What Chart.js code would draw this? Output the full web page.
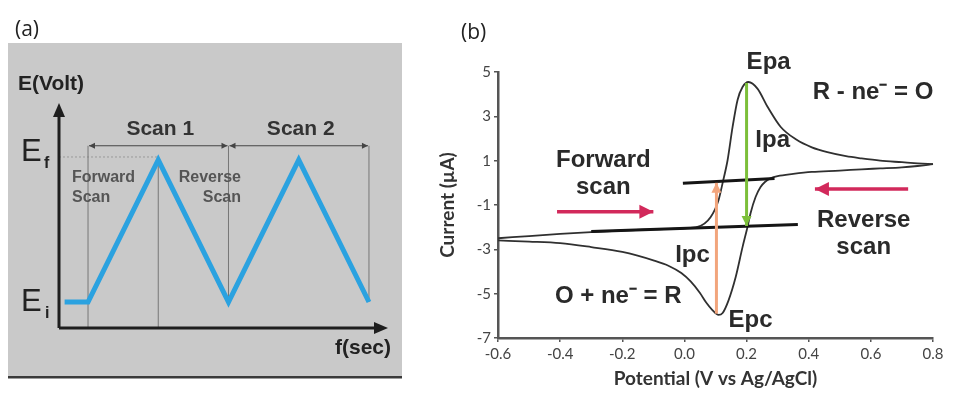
<!DOCTYPE html>
<html>
<head>
<meta charset="utf-8">
<script src="https://cdn.jsdelivr.net/npm/chart.js@4"></script>
<style>
  html, body { margin: 0; padding: 0; background: #fff; }
  #wrap { position: relative; width: 957px; height: 398px; overflow: hidden; }
  canvas { position: absolute; top: 0; }
  #waveCanvas { left: 0; }
  #cvCanvas { left: 430px; }
</style>
</head>
<body>
<div id="wrap">
  <canvas id="waveCanvas" width="420" height="398" style="width:420px;height:398px"></canvas>
  <canvas id="cvCanvas" width="527" height="398" style="width:527px;height:398px"></canvas>
</div>
<script>
// (a) triangular potential waveform (time in arbitrary units, Ei = 0, Ef = 1)
const waveTime = [0, 1, 4, 7, 10, 13];
const wavePotential = [0, 0, 1, 0, 1, 0];
const scanBounds = [1, 7, 13];
const scanNames = ['Scan 1', 'Scan 2'];

// (b) cyclic voltammogram, potential (V vs Ag/AgCl) and current (uA)
const fwdPotential = [-0.6, -0.5, -0.4, -0.3, -0.2, -0.1, 0.0, 0.042, 0.084, 0.11, 0.123, 0.139, 0.155, 0.171, 0.187, 0.206, 0.235, 0.268, 0.31, 0.36, 0.41, 0.46, 0.52, 0.57, 0.63, 0.7, 0.75, 0.8];
const fwdCurrent   = [-2.5, -2.4, -2.3, -2.22, -2.15, -2.1, -2.05, -1.99, -1.55, -0.77, 0.0, 1.03, 2.52, 3.74, 4.32, 4.55, 4.25, 3.42, 2.52, 1.95, 1.6, 1.38, 1.2, 1.1, 1.0, 0.93, 0.88, 0.84];
const revPotential = [0.8, 0.75, 0.7, 0.63, 0.57, 0.5, 0.41, 0.35, 0.3, 0.277, 0.26, 0.245, 0.229, 0.213, 0.203, 0.187, 0.165, 0.142, 0.123, 0.11, 0.09, 0.07, 0.05, 0.02, -0.01, -0.05, -0.1, -0.2, -0.3, -0.4, -0.5, -0.6];
const revCurrent   = [0.84, 0.76, 0.7, 0.65, 0.61, 0.55, 0.49, 0.4, 0.3, 0.2, 0.05, -0.19, -0.64, -1.36, -1.99, -2.9, -4.25, -5.3, -5.87, -5.96, -5.74, -5.4, -4.97, -4.45, -4.07, -3.75, -3.5, -3.12, -2.9, -2.72, -2.65, -2.6];
// extrapolated baselines
const baseLowPotential = [-0.3, 0.365];
const baseLowCurrent = [-2.2, -1.88];
const baseHighPotential = [-0.005, 0.29];
const baseHighCurrent = [-0.02, 0.2];
// peak current arrows
const ipcPotential = [0.103, 0.103];
const ipcCurrent = [-5.9, 0.0];
const ipaPotential = [0.2, 0.2];
const ipaCurrent = [4.5, -1.95];
// scan direction arrows
const fwdArrowPotential = [-0.41, -0.1];
const fwdArrowCurrent = [-1.3, -1.3];
const revArrowPotential = [0.72, 0.42];
const revArrowCurrent = [-0.28, -0.28];
// axes
const potentialRange = [-0.6, 0.8];
const currentRange = [-7, 5];

const ARIAL = '"Liberation Sans", Arial, sans-serif';
const CALI = 'Lato, "Open Sans", sans-serif';

function zip(xs, ys) {
  return xs.map((x, i) => ({ x: x, y: ys[i] }));
}

function arrowHead(ctx, x0, y0, x1, y1, len, half, color) {
  const a = Math.atan2(y1 - y0, x1 - x0);
  ctx.save();
  ctx.fillStyle = color;
  ctx.beginPath();
  ctx.moveTo(x1, y1);
  ctx.lineTo(x1 - len * Math.cos(a) + half * Math.sin(a), y1 - len * Math.sin(a) - half * Math.cos(a));
  ctx.lineTo(x1 - len * Math.cos(a) - half * Math.sin(a), y1 - len * Math.sin(a) + half * Math.cos(a));
  ctx.closePath();
  ctx.fill();
  ctx.restore();
}

// ---------- (a) waveform ----------
const wavePlugin = {
  id: 'waveDecor',
  beforeDraw(chart) {
    const ctx = chart.ctx;
    ctx.save();
    ctx.fillStyle = '#c9c9c9';
    ctx.fillRect(8, 43, 394, 334);
    ctx.fillStyle = '#3a3a3a';
    ctx.fillRect(8, 376, 394, 2.5);
    ctx.fillStyle = '#222';
    ctx.font = '21px "Open Sans", sans-serif';
    ctx.textBaseline = 'middle';
    ctx.fillText('(a)', 15, 30);
    ctx.restore();
  },
  beforeDatasetsDraw(chart) {
    const ctx = chart.ctx;
    const xs = chart.scales.x, ys = chart.scales.y;
    const a = chart.chartArea;
    const yTop = ys.getPixelForValue(1);
    const yBot = ys.getPixelForValue(0);
    const yBr = ys.getPixelForValue(1.1);
    ctx.save();
    // dotted Ef level
    ctx.strokeStyle = '#9a9a9a';
    ctx.lineWidth = 1;
    ctx.setLineDash([2, 2]);
    ctx.beginPath();
    ctx.moveTo(a.left, yTop - 3);
    ctx.lineTo(xs.getPixelForValue(4), yTop - 3);
    ctx.stroke();
    ctx.setLineDash([]);
    // guide lines
    ctx.strokeStyle = '#777';
    ctx.beginPath();
    ctx.moveTo(xs.getPixelForValue(1), yBr); ctx.lineTo(xs.getPixelForValue(1), a.bottom);
    ctx.moveTo(xs.getPixelForValue(4), yTop); ctx.lineTo(xs.getPixelForValue(4), a.bottom);
    ctx.moveTo(xs.getPixelForValue(7), yBr); ctx.lineTo(xs.getPixelForValue(7), yBot);
    ctx.moveTo(xs.getPixelForValue(13), yBr); ctx.lineTo(xs.getPixelForValue(13), yBot);
    ctx.stroke();
    // scan brackets
    ctx.strokeStyle = '#444';
    ctx.lineWidth = 1.2;
    for (let i = 0; i < scanNames.length; i++) {
      const x0 = xs.getPixelForValue(scanBounds[i]) + 1;
      const x1 = xs.getPixelForValue(scanBounds[i + 1]) - 1;
      ctx.beginPath();
      ctx.moveTo(x0, yBr); ctx.lineTo(x1, yBr);
      ctx.stroke();
      arrowHead(ctx, x1, yBr, x0, yBr, 6, 3, '#444');
      arrowHead(ctx, x0, yBr, x1, yBr, 6, 3, '#444');
      ctx.fillStyle = '#333';
      ctx.font = 'bold 21px ' + ARIAL;
      ctx.textAlign = 'center';
      ctx.textBaseline = 'middle';
      ctx.fillText(scanNames[i], (x0 + x1) / 2 + 2, yBr - 17);
    }
    // forward / reverse scan labels
    ctx.fillStyle = '#555';
    ctx.font = 'bold 16px ' + ARIAL;
    ctx.textAlign = 'left';
    ctx.fillText('Forward', 72, 178);
    ctx.fillText('Scan', 72, 198);
    ctx.textAlign = 'right';
    ctx.fillText('Reverse', 241, 178);
    ctx.fillText('Scan', 241, 198);
    ctx.restore();
  },
  afterDraw(chart) {
    const ctx = chart.ctx;
    const a = chart.chartArea;
    const ys = chart.scales.y;
    ctx.save();
    ctx.strokeStyle = '#1e1e1e';
    ctx.lineWidth = 3;
    ctx.beginPath();
    ctx.moveTo(a.left, a.bottom); ctx.lineTo(a.left, a.top + 8);
    ctx.moveTo(a.left, a.bottom); ctx.lineTo(a.right - 6, a.bottom);
    ctx.stroke();
    arrowHead(ctx, a.left, a.bottom, a.left, a.top - 4, 14, 6, '#1e1e1e');
    arrowHead(ctx, a.left, a.bottom, a.right + 5, a.bottom, 14, 6, '#1e1e1e');
    ctx.fillStyle = '#222';
    ctx.textBaseline = 'middle';
    ctx.textAlign = 'left';
    ctx.font = 'bold 21px ' + ARIAL;
    ctx.fillText('E(Volt)', 18, 84);
    ctx.textAlign = 'right';
    ctx.fillText('f(sec)', 391, 348);
    ctx.textAlign = 'left';
    ctx.textBaseline = 'alphabetic';
    ctx.font = '31px ' + ARIAL;
    ctx.fillText('E', 21, ys.getPixelForValue(1) + 1);
    ctx.fillText('E', 21, ys.getPixelForValue(0) + 9);
    ctx.font = 'bold 16px ' + ARIAL;
    ctx.fillText('f', 44, ys.getPixelForValue(1) + 8);
    ctx.fillText('i', 45, ys.getPixelForValue(0) + 16);
    ctx.restore();
  }
};

new Chart(document.getElementById('waveCanvas'), {
  type: 'scatter',
  data: {
    datasets: [{
      data: zip(waveTime, wavePotential),
      showLine: true,
      borderColor: '#2ba2e0',
      borderWidth: 5,
      pointRadius: 0,
      borderJoinStyle: 'miter',
      clip: false
    }]
  },
  options: {
    responsive: false,
    animation: false,
    events: [],
    layout: { padding: { left: 59, right: 37, top: 107, bottom: 70 } },
    plugins: { legend: { display: false }, tooltip: { enabled: false } },
    scales: {
      x: { type: 'linear', display: false, min: -0.24, max: 13.6 },
      y: { type: 'linear', display: false, min: -0.183, max: 1.373 }
    }
  },
  plugins: [wavePlugin]
});

// ---------- (b) cyclic voltammogram ----------
const cvLabels = [
  { text: 'Epa', x: 0.271, y: 5.45, align: 'center' },
  { text: 'R - ne\u207B = O', x: 0.413, y: 4.1, align: 'left' },
  { text: 'Ipa', x: 0.284, y: 1.93, align: 'center' },
  { text: 'Forward', x: -0.261, y: 1.03, align: 'center' },
  { text: 'scan', x: -0.261, y: -0.2, align: 'center' },
  { text: 'Reverse', x: 0.577, y: -1.68, align: 'center' },
  { text: 'scan', x: 0.577, y: -2.9, align: 'center' },
  { text: 'Ipc', x: 0.026, y: -3.25, align: 'center' },
  { text: 'O + ne\u207B = R', x: -0.213, y: -5.1, align: 'center' },
  { text: 'Epc', x: 0.213, y: -6.19, align: 'center' }
];

const cvPlugin = {
  id: 'cvDecor',
  afterDatasetsDraw(chart) {
    const ctx = chart.ctx;
    chart.data.datasets.forEach((ds, i) => {
      if (!ds.head) return;
      const pts = chart.getDatasetMeta(i).data;
      const p0 = pts[pts.length - 2], p1 = pts[pts.length - 1];
      arrowHead(ctx, p0.x, p0.y, p1.x, p1.y, ds.head[0], ds.head[1], ds.borderColor);
    });
  },
  afterDraw(chart) {
    const ctx = chart.ctx;
    const xs = chart.scales.x, ys = chart.scales.y;
    ctx.save();
    ctx.fillStyle = '#2a2a2a';
    ctx.font = 'bold 24px ' + ARIAL;
    ctx.textBaseline = 'middle';
    cvLabels.forEach(l => {
      ctx.textAlign = l.align;
      ctx.fillText(l.text, xs.getPixelForValue(l.x), ys.getPixelForValue(l.y));
    });
    ctx.font = '21px "Open Sans", sans-serif';
    ctx.textAlign = 'left';
    ctx.fillStyle = '#222';
    ctx.fillText('(b)', 31, 33);
    ctx.restore();
  }
};

function seg(xs, ys, color, width, head) {
  return {
    data: zip(xs, ys),
    showLine: true,
    borderColor: color,
    borderWidth: width,
    pointRadius: 0,
    clip: false,
    head: head
  };
}

new Chart(document.getElementById('cvCanvas'), {
  type: 'scatter',
  data: {
    datasets: [
      seg(ipcPotential, ipcCurrent, '#f2a57c', 3, [10, 5]),
      seg(ipaPotential, ipaCurrent, '#7cbf3a', 3, [10, 5]),
      seg(baseLowPotential, baseLowCurrent, '#151515', 3),
      seg(baseHighPotential, baseHighCurrent, '#151515', 3),
      Object.assign(seg(fwdPotential, fwdCurrent, '#303030', 1.8), { cubicInterpolationMode: 'monotone' }),
      Object.assign(seg(revPotential, revCurrent, '#303030', 1.8), { cubicInterpolationMode: 'monotone' }),
      seg(fwdArrowPotential, fwdArrowCurrent, '#d2295b', 3.5, [14, 7]),
      seg(revArrowPotential, revArrowCurrent, '#d2295b', 3.5, [14, 7])
    ]
  },
  options: {
    responsive: false,
    animation: false,
    events: [],
    layout: { padding: { left: 0, right: 24, top: 72, bottom: 0 } },
    plugins: { legend: { display: false }, tooltip: { enabled: false } },
    scales: {
      x: {
        type: 'linear',
        min: potentialRange[0],
        max: potentialRange[1],
        afterFit: s => { s.height = 60; },
        border: { color: '#555', width: 2.5 },
        grid: { drawOnChartArea: false, tickLength: 4, color: '#555', lineWidth: 1.5 },
        ticks: {
          stepSize: 0.2,
          padding: 3,
          color: '#444',
          font: { family: CALI, size: 15 },
          callback: v => v.toFixed(1)
        },
        title: {
          display: true,
          text: 'Potential (V vs Ag/AgCl)',
          color: '#333',
          font: { family: CALI, size: 19, weight: 'bold' },
          padding: { top: 0, bottom: 8 }
        }
      },
      y: {
        type: 'linear',
        min: currentRange[0],
        max: currentRange[1],
        afterFit: s => { s.width = 68; },
        border: { color: '#555', width: 2.5 },
        grid: { drawOnChartArea: false, tickLength: 4, color: '#555', lineWidth: 1.5 },
        ticks: {
          stepSize: 2,
          padding: 3,
          color: '#444',
          font: { family: CALI, size: 15 }
        },
        title: {
          display: true,
          text: 'Current (\u00B5A)',
          color: '#333',
          font: { family: CALI, size: 19, weight: 'bold' },
          padding: { top: 6, bottom: 0 }
        }
      }
    }
  },
  plugins: [cvPlugin]
});
</script>
</body>
</html>
